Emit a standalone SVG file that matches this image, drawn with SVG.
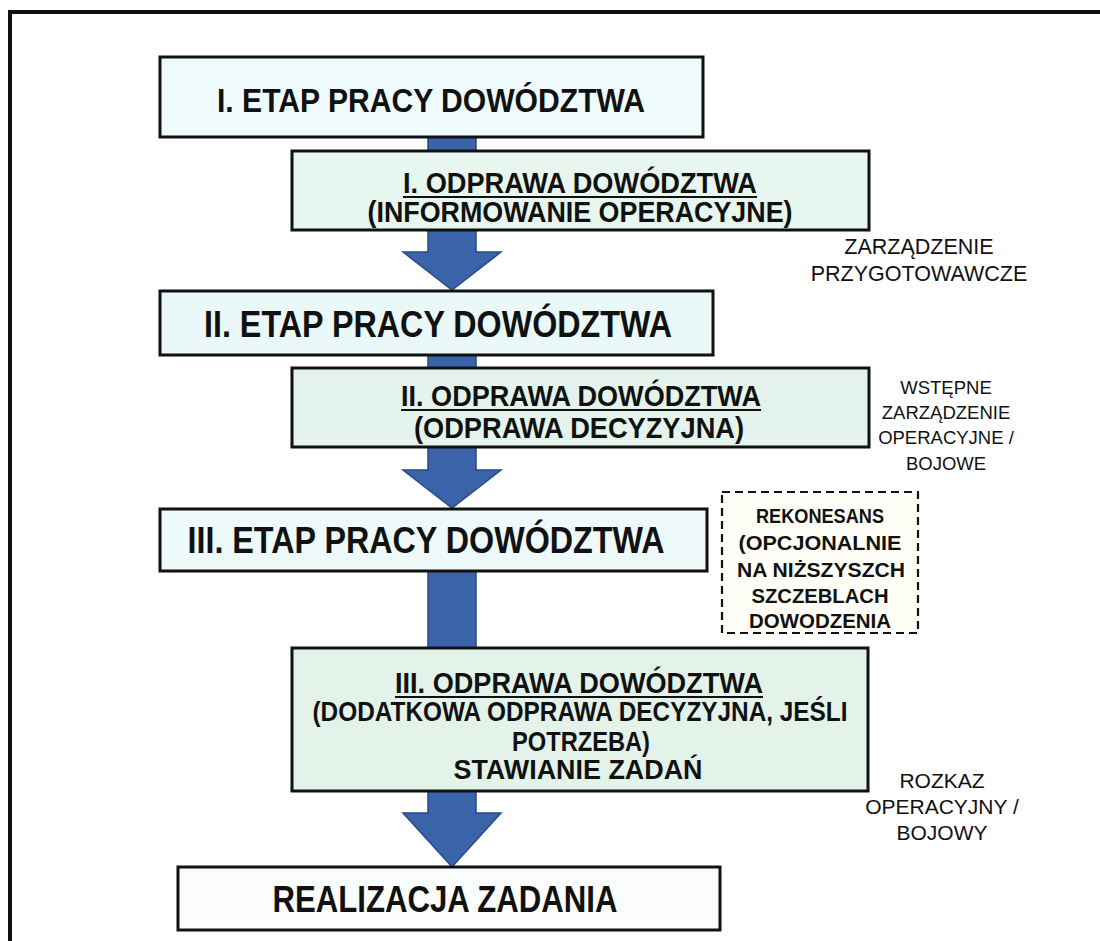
<svg xmlns="http://www.w3.org/2000/svg" width="1100" height="941" viewBox="0 0 1100 941">
  <style>
    .box { stroke: #111; stroke-width: 3; }
    .dash { fill: #fffff8; stroke: #111; stroke-width: 2.2; stroke-dasharray: 8 5; }
    .arrow { fill: #3b63aa; stroke: #284a88; stroke-width: 1.5; }
    .t { font-family: "Liberation Sans", Arial, sans-serif; font-weight: bold; fill: #111; text-anchor: middle; }
    .side { font-family: "Liberation Sans", Arial, sans-serif; fill: #111; text-anchor: middle; }
    .side-b { font-family: "Liberation Sans", Arial, sans-serif; fill: #111; text-anchor: middle; font-size: 21px; font-weight: bold; }
    .ul { stroke: #111; stroke-width: 2; }
  </style>

  <rect width="1100" height="941" fill="#ffffff"/>
  <!-- page frame -->
  <path d="M10 941 V12 H1100" fill="none" stroke="#111" stroke-width="4"/>

  <!-- flow arrows -->
  <g id="connectors">
    <path class="arrow" d="M428 137 H476 V252 H501 L452 290 L403 252 H428 Z"/>
    <path class="arrow" d="M428 355 H476 V470 H501 L452 508 L403 470 H428 Z"/>
    <path class="arrow" d="M428 571 H476 V813 H501 L452 867 L403 813 H428 Z"/>
  </g>

  <g id="etap1">
    <rect class="box" x="160" y="57" width="543" height="80" fill="#eefafb"/>
    <text class="t" x="431" y="112" font-size="33" textLength="428" lengthAdjust="spacingAndGlyphs">I. ETAP PRACY DOWÓDZTWA</text>
  </g>

  <g id="odprawa1">
    <rect class="box" x="292" y="151" width="577" height="79" fill="#e7f6ee"/>
    <text class="t" x="580" y="193" font-size="29" textLength="354" lengthAdjust="spacingAndGlyphs">I. ODPRAWA DOWÓDZTWA</text>
    <line class="ul" x1="403" y1="197" x2="757" y2="197"/>
    <text class="t" x="580" y="222" font-size="29" textLength="425" lengthAdjust="spacingAndGlyphs">(INFORMOWANIE OPERACYJNE)</text>
  </g>

  <g id="note1">
    <text class="side" x="919" y="254" font-size="21.5">ZARZĄDZENIE</text>
    <text class="side" x="919" y="281" font-size="21.5">PRZYGOTOWAWCZE</text>
  </g>

  <g id="etap2">
    <rect class="box" x="160" y="291" width="553" height="64" fill="#eaf8f8"/>
    <text class="t" x="438" y="337" font-size="36" textLength="468" lengthAdjust="spacingAndGlyphs">II. ETAP PRACY DOWÓDZTWA</text>
  </g>

  <g id="odprawa2">
    <rect class="box" x="292" y="368" width="577" height="79" fill="#e4f4ec"/>
    <text class="t" x="581" y="406" font-size="30" textLength="360" lengthAdjust="spacingAndGlyphs">II. ODPRAWA DOWÓDZTWA</text>
    <line class="ul" x1="401" y1="410" x2="761" y2="410"/>
    <text class="t" x="579" y="438" font-size="30" textLength="330" lengthAdjust="spacingAndGlyphs">(ODPRAWA DECYZYJNA)</text>
  </g>

  <g id="note2">
    <text class="side" x="946" y="394" font-size="18.5">WSTĘPNE</text>
    <text class="side" x="946" y="419" font-size="18.5">ZARZĄDZENIE</text>
    <text class="side" x="946" y="444" font-size="18.5">OPERACYJNE /</text>
    <text class="side" x="946" y="470" font-size="18.5">BOJOWE</text>
  </g>

  <g id="etap3">
    <rect class="box" x="160" y="509" width="547" height="62" fill="#eef9fa"/>
    <text class="t" x="426" y="553" font-size="36" textLength="477" lengthAdjust="spacingAndGlyphs">III. ETAP PRACY DOWÓDZTWA</text>
  </g>

  <g id="rekonesans">
    <rect class="dash" x="722" y="492" width="196" height="141"/>
    <text class="side-b" x="820" y="523" textLength="128" lengthAdjust="spacingAndGlyphs">REKONESANS</text>
    <text class="side-b" x="820" y="550" textLength="163" lengthAdjust="spacingAndGlyphs">(OPCJONALNIE</text>
    <text class="side-b" x="821" y="577" textLength="168" lengthAdjust="spacingAndGlyphs">NA NIŻSZYSZCH</text>
    <text class="side-b" x="820" y="603" textLength="137" lengthAdjust="spacingAndGlyphs">SZCZEBLACH</text>
    <text class="side-b" x="820" y="628" textLength="142" lengthAdjust="spacingAndGlyphs">DOWODZENIA</text>
  </g>

  <g id="odprawa3">
    <rect class="box" x="292" y="648" width="576" height="143" fill="#e3f3ea"/>
    <text class="t" x="579" y="693" font-size="29" textLength="368" lengthAdjust="spacingAndGlyphs">III. ODPRAWA DOWÓDZTWA</text>
    <line class="ul" x1="395" y1="697" x2="763" y2="697"/>
    <text class="t" x="580" y="721" font-size="28" textLength="535" lengthAdjust="spacingAndGlyphs">(DODATKOWA ODPRAWA DECYZYJNA, JEŚLI</text>
    <text class="t" x="581" y="751" font-size="28" textLength="138" lengthAdjust="spacingAndGlyphs">POTRZEBA)</text>
    <text class="t" x="578" y="779" font-size="28" textLength="249" lengthAdjust="spacingAndGlyphs">STAWIANIE ZADAŃ</text>
  </g>

  <g id="note3">
    <text class="side" x="942" y="788" font-size="21">ROZKAZ</text>
    <text class="side" x="942" y="814" font-size="21">OPERACYJNY /</text>
    <text class="side" x="942" y="840" font-size="21">BOJOWY</text>
  </g>

  <g id="realizacja">
    <rect class="box" x="178" y="867" width="542" height="63" fill="#fbfdfd"/>
    <text class="t" x="445" y="912" font-size="36" textLength="345" lengthAdjust="spacingAndGlyphs">REALIZACJA ZADANIA</text>
  </g>
</svg>
